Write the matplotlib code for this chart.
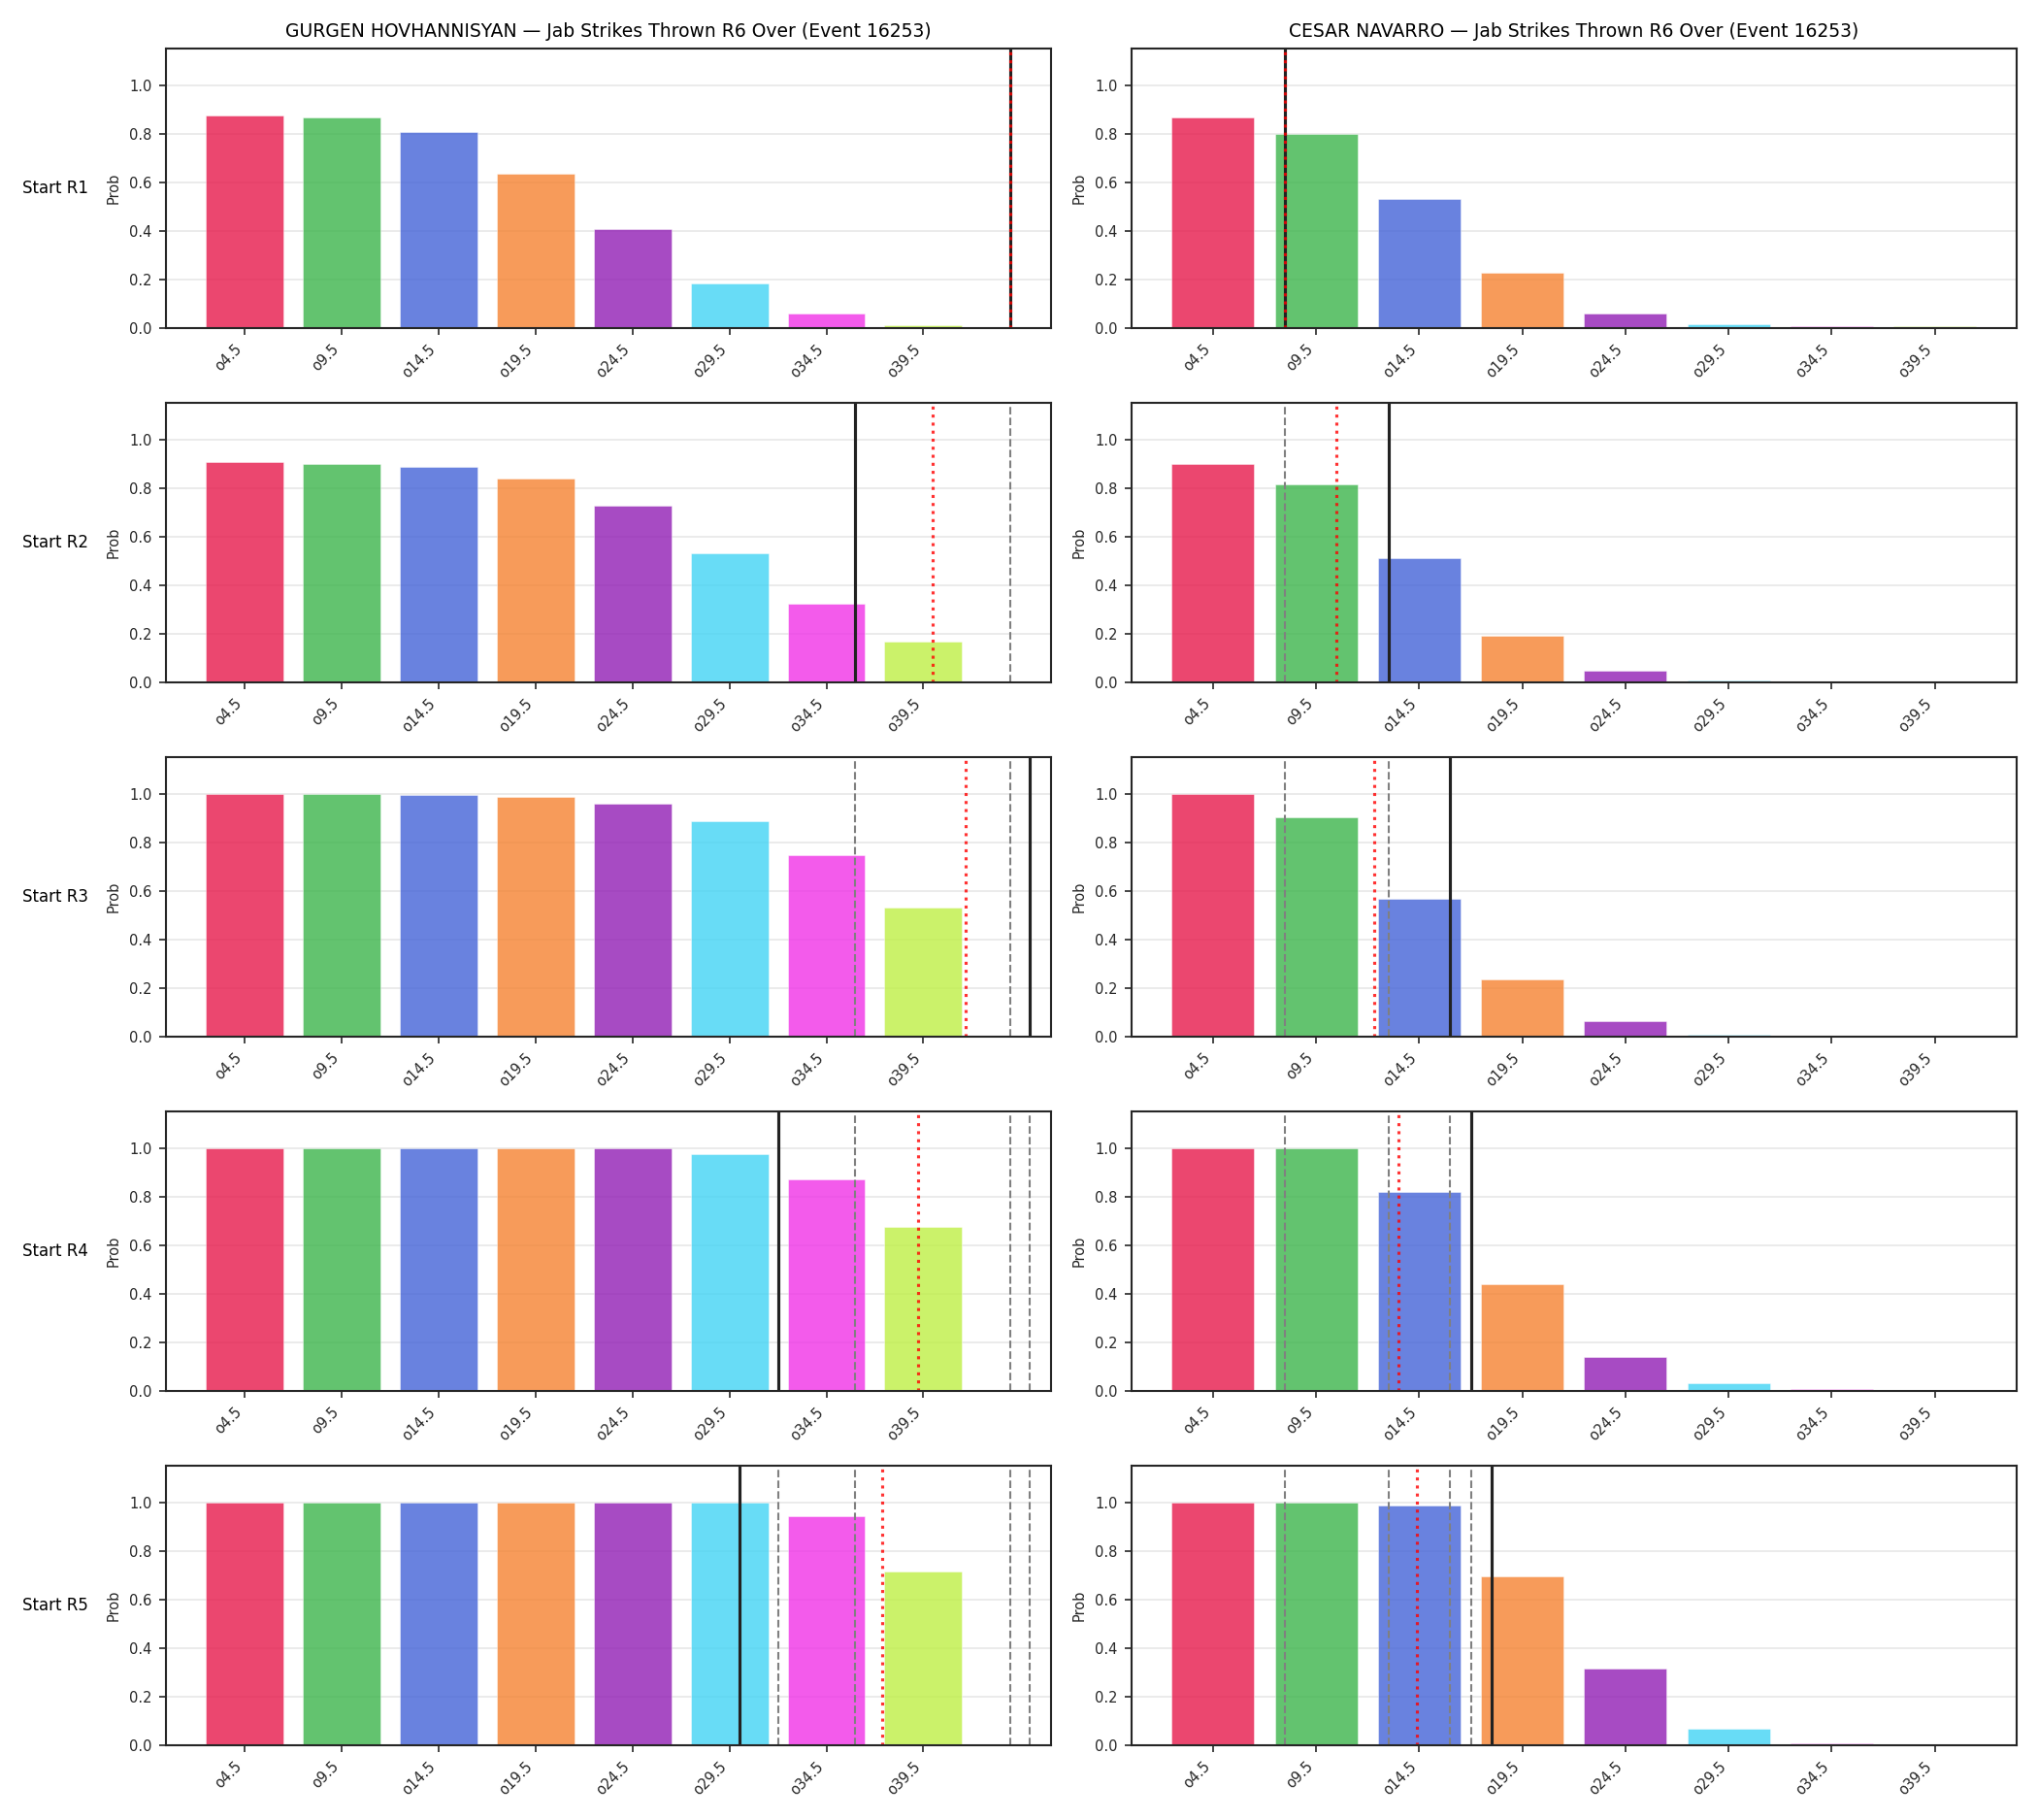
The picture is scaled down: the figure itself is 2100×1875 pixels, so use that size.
import numpy as np
import matplotlib
matplotlib.use("Agg")
import matplotlib.pyplot as plt
from matplotlib.transforms import blended_transform_factory

# ---------------- data ----------------
thresholds = [4.5, 9.5, 14.5, 19.5, 24.5, 29.5, 34.5, 39.5]
tick_labels = ["o4.5", "o9.5", "o14.5", "o19.5", "o24.5", "o29.5", "o34.5", "o39.5"]
row_labels = ["Start R1", "Start R2", "Start R3", "Start R4", "Start R5"]

fighter_left = "GURGEN HOVHANNISYAN"
fighter_right = "CESAR NAVARRO"
title_suffix = "Jab Strikes Thrown R6 Over (Event 16253)"

probs_left_r1 = [0.876, 0.868, 0.808, 0.636, 0.408, 0.183, 0.059, 0.011]
probs_left_r2 = [0.908, 0.898, 0.887, 0.839, 0.725, 0.532, 0.324, 0.167]
probs_left_r3 = [0.998, 0.997, 0.995, 0.985, 0.957, 0.885, 0.745, 0.532]
probs_left_r4 = [0.999, 0.999, 0.999, 0.998, 0.997, 0.973, 0.869, 0.676]
probs_left_r5 = [0.999, 0.999, 0.999, 0.999, 0.997, 0.997, 0.941, 0.713]

probs_right_r1 = [0.868, 0.800, 0.531, 0.227, 0.059, 0.015, 0.007, 0.005]
probs_right_r2 = [0.899, 0.815, 0.511, 0.191, 0.045, 0.005, 0.004, 0.003]
probs_right_r3 = [0.997, 0.901, 0.568, 0.235, 0.063, 0.005, 0.004, 0.003]
probs_right_r4 = [0.997, 0.997, 0.817, 0.440, 0.140, 0.030, 0.006, 0.004]
probs_right_r5 = [0.997, 0.997, 0.985, 0.693, 0.316, 0.068, 0.005, 0.002]

# per-round reference values (strike counts) shown as vertical lines
marks_left = [44, 36, 45, 32, 30]
marks_right = [8, 13, 16, 17, 18]

bar_colors = ["#e6194b", "#3cb44b", "#4363d8", "#f58231",
              "#911eb4", "#42d4f4", "#f032e6", "#bfef45"]

probs_left = [probs_left_r1, probs_left_r2, probs_left_r3, probs_left_r4, probs_left_r5]
probs_right = [probs_right_r1, probs_right_r2, probs_right_r3, probs_right_r4, probs_right_r5]

# ---------------- figure ----------------
fig = plt.figure(figsize=(14, 12.5), dpi=150)
H = 1875.0
W = 2100.0
gs_kw = dict(top=1 - 50 / H, bottom=1 - 1797.7 / H, hspace=0.2696)
gs_left = fig.add_gridspec(5, 1, left=171 / W, right=1082.7 / W, **gs_kw)
gs_right = fig.add_gridspec(5, 1, left=1166 / W, right=2077.7 / W, **gs_kw)

step = thresholds[1] - thresholds[0]
def to_pos(v):
    return (v - thresholds[0]) / step

edge = "#262626"
columns = [(gs_left, probs_left, marks_left, fighter_left),
           (gs_right, probs_right, marks_right, fighter_right)]

for ci, (gs, probs, marks, name) in enumerate(columns):
    for ri in range(5):
        ax = fig.add_subplot(gs[ri, 0])
        x = np.arange(len(thresholds))
        ax.set_axisbelow(True)
        ax.grid(axis="y", color="#b0b0b0", alpha=0.3, linewidth=0.8)
        ax.bar(x, probs[ri], width=0.8, color=bar_colors, alpha=0.8,
               edgecolor="white", linewidth=0.25)
        # previous rounds' marks
        for k in range(ri):
            ax.axvline(to_pos(marks[k]), color="gray", linestyle="--", linewidth=1.0)
        # current round mark
        ax.axvline(to_pos(marks[ri]), color="#222222", linestyle="-", linewidth=1.5)
        # running average
        avg = np.mean(marks[:ri + 1])
        ax.axvline(to_pos(avg), color="red", linestyle=":", linewidth=1.5, alpha=0.8)

        ax.set_ylim(0, 1.15)
        ax.set_xticks(x)
        ax.set_xticklabels(tick_labels, rotation=45, ha="right")
        ax.tick_params(axis="both", labelsize=7, colors=edge)
        ax.set_ylabel("Prob", fontsize=7, color=edge)
        for sp in ax.spines.values():
            sp.set_color(edge)
            sp.set_linewidth(1.0)
        if ri == 0:
            ax.set_title(f"{name} \u2014 {title_suffix}", fontsize=9, color="black")
        if ci == 0:
            tr = blended_transform_factory(fig.transFigure, ax.transAxes)
            ax.text(23 / W, 0.5, row_labels[ri], transform=tr, ha="left",
                    va="center", fontsize=8, color="black")

fig.savefig("out.png", dpi=150)
